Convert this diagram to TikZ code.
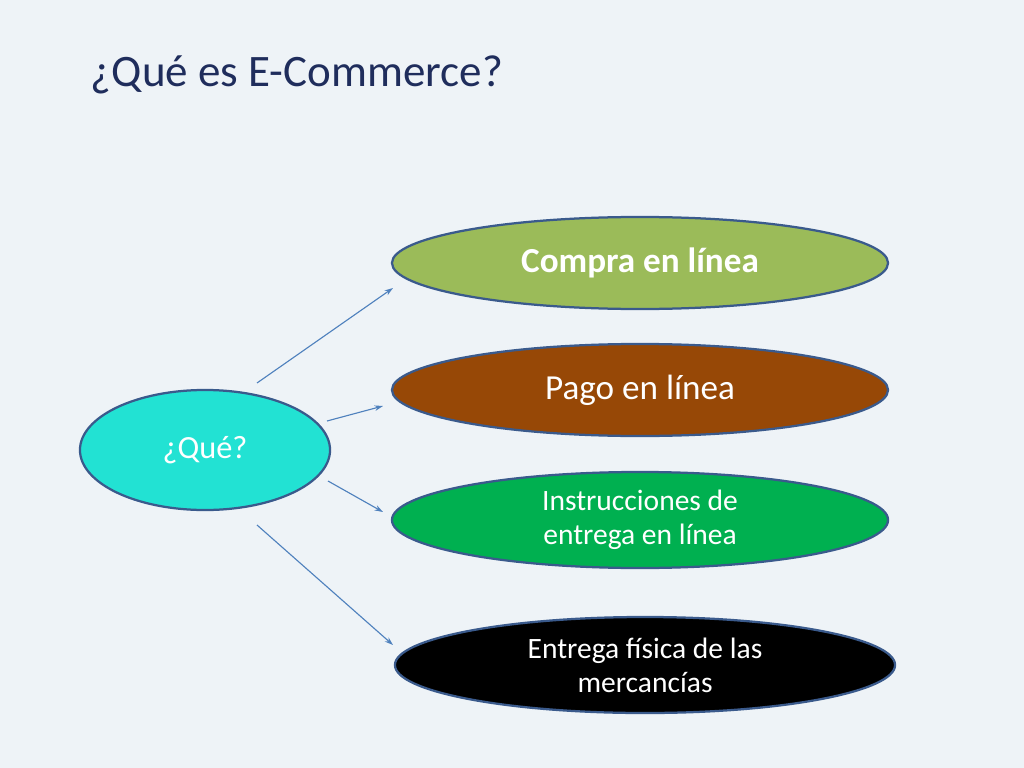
\documentclass[tikz,border=0pt]{standalone}
\usepackage{fontspec}
\setmainfont{Carlito}
\usetikzlibrary{shapes.geometric,arrows.meta}
\definecolor{bgcol}{HTML}{EEF3F7}
\definecolor{titlecol}{HTML}{1F2D5C}
\definecolor{rimcol}{HTML}{3A5A8C}
\definecolor{arrowcol}{HTML}{4F81BD}
\definecolor{quecol}{HTML}{22E2D3}
\definecolor{compracol}{HTML}{9BBB59}
\definecolor{pagocol}{HTML}{974806}
\definecolor{instrcol}{HTML}{00B050}
\begin{document}
\begin{tikzpicture}[x=0.025cm,y=-0.025cm,
    bubble/.style={ellipse, draw=rimcol, line width=1.6pt, inner sep=0pt,
      minimum width=12.4cm, minimum height=2.3cm, text=white, align=center},
    link/.style={draw=arrowcol, line width=0.8pt, -{Stealth[length=6pt,width=4pt]}}
]

  % Background and title
  \fill[bgcol] (0,0) rectangle (1024,768);
  \node[anchor=west, text=titlecol, font=\fontsize{32}{38}\selectfont] (title) at (86,75) {¿Qué es E-Commerce?};

  % Centre and branches
  \node[bubble, fill=quecol, minimum width=6.25cm, minimum height=3cm, text=white,
        font=\fontsize{23}{27}\selectfont] (que) at (205,450) {¿Qué?};
  \node[bubble, fill=compracol, font=\fontsize{25}{30}\selectfont\bfseries] (compra) at (640,263) {Compra en línea};
  \node[bubble, fill=pagocol, font=\fontsize{25}{30}\selectfont] (pago) at (640,390) {Pago en línea};
  \node[bubble, fill=instrcol, minimum height=2.4cm, font=\fontsize{21}{24}\selectfont] (instr) at (640,520) {Instrucciones de\\entrega en línea};
  \node[bubble, fill=black, minimum width=12.5cm, minimum height=2.4cm, font=\fontsize{21}{24}\selectfont] (entrega) at (645,665) {Entrega física de las\\mercancías};

  % Arrow ends
  \coordinate (a1) at (257,383); \coordinate (b1) at (393,288);
  \coordinate (a2) at (327,421); \coordinate (b2) at (383,406);
  \coordinate (a3) at (328,481); \coordinate (b3) at (383,512);
  \coordinate (a4) at (257,525); \coordinate (b4) at (393,645);

  \draw[link] (a1) -- (b1);
  \draw[link] (a2) -- (b2);
  \draw[link] (a3) -- (b3);
  \draw[link] (a4) -- (b4);

\end{tikzpicture}
\end{document}
